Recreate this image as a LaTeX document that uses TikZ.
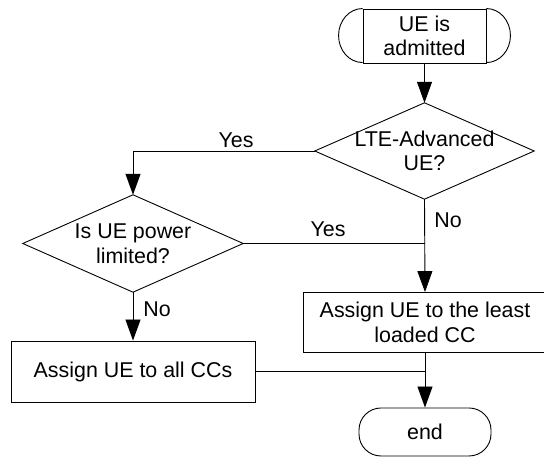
\documentclass[tikz,border=0pt]{standalone}
\usepackage{fontspec}
\setmainfont{Liberation Sans}
\usetikzlibrary{arrows.meta}
\begin{document}
\begin{tikzpicture}[x=1pt,y=1pt]
\tikzset{
 base/.style={font=\fontsize{21.4}{24.5}\selectfont, align=center, inner sep=0pt},
 proc/.style={base, draw, line width=0.9pt, minimum width=244pt, minimum height=60pt},
 dec/.style={base, minimum width=220pt, minimum height=97pt},
 lab/.style={base},
 conn/.style={line width=0.9pt},
 arr/.style={conn, -{Triangle[length=21pt,width=15pt]}},
}
\useasboundingbox (0,0) rectangle (544,457);
% start terminal
\node[base, draw, line width=0.9pt, minimum width=123pt, minimum height=54pt] (start) at (424.5,421) {UE is\\admitted};
\draw[conn] (start.north west) arc[start angle=90, end angle=270, x radius=24pt, y radius=27pt];
\draw[conn] (start.north east) arc[start angle=90, end angle=-90, x radius=24pt, y radius=27pt];
% decisions
\node[dec, minimum width=219pt, minimum height=96pt] (d1) at (424.5,306) {LTE-Advanced\\UE?};
\draw[conn] (d1.north) -- (d1.east) -- (d1.south) -- (d1.west) -- cycle;
\node[dec] (d2) at (133,213.5) {Is UE power\\limited?};
\draw[conn] (d2.north) -- (d2.east) -- (d2.south) -- (d2.west) -- cycle;
% processes
\node[proc] (p2) at (425,134.5) {Assign UE to the least\\loaded CC};
\node[proc, minimum height=61pt] (p1) at (133,85.5) {Assign UE to all CCs};
% end
\node[base, draw, line width=0.9pt, rounded corners=22pt, minimum width=132pt, minimum height=48pt] (end) at (425,25) {end};
% coordinates
\coordinate (c1) at (d2.north |- d1.west);
\coordinate (j1) at (d1.south |- d2.east);
\coordinate (j2) at (p2.south |- p1.east);
% connectors
\draw[arr] (start.south) -- (d1.north);
\draw[arr] (d1.west) -- (c1) -- (d2.north);
\draw[arr] (d1.south) -- (p2.north);
\draw[conn] (d2.east) -- (j1);
\draw[arr] (d2.south) -- (p1.north);
\draw[arr] (p2.south) -- (end.north);
\draw[conn] (p1.east) -- (j2);
% labels
\node[lab] (yes1) at (236,317) {Yes};
\node[lab] (yes2) at (328,228) {Yes};
\node[lab] (no1) at (448,237) {No};
\node[lab] (no2) at (157,148) {No};
\end{tikzpicture}
\end{document}
